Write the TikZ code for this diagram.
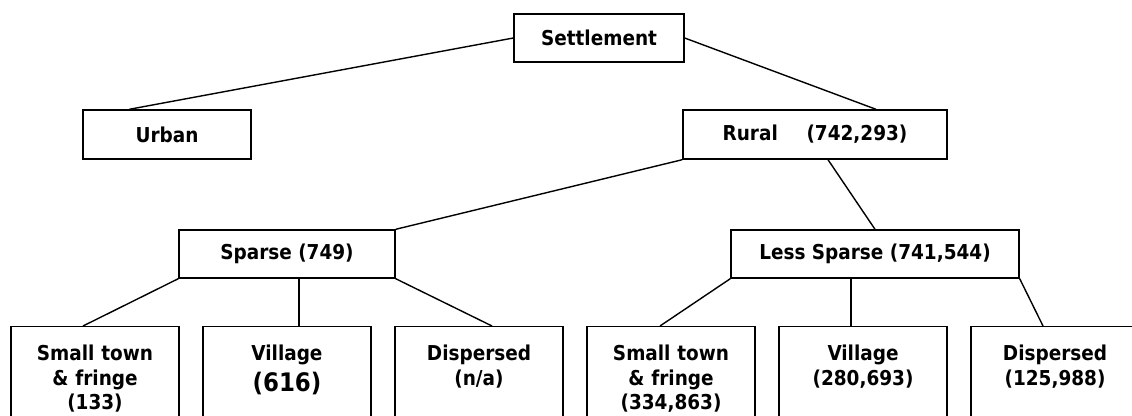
\documentclass[tikz,border=0pt]{standalone}
\usepackage{fontspec}
\setmainfont{DejaVu Sans Condensed}
\usepackage{tikz}
\tikzset{
  st/.style={x=1pt, y=-1pt, line width=1.4pt,
             every node/.style={draw, rectangle, font=\bfseries\fontsize{20.5}{24.5}\selectfont, inner sep=0pt, minimum height=48pt}},
  leafbox/.style={anchor=north, text width=168pt, align=center, text height=34pt, text depth=110pt}
}
\newcommand{\bignum}[1]{{\fontsize{25.5}{32}\selectfont #1}}

\begin{document}
\begin{tikzpicture}[st]
\useasboundingbox (0,0) rectangle (1132,415);
\clip (0,0) rectangle (1132,415);
\node (settle) at (599,38) [minimum width=170pt] {Settlement};
\node (urban) at (167,134.5) [minimum width=168pt, minimum height=49pt] {Urban};
\node (rural) at (815,134.5) [minimum width=264pt, minimum height=49pt] {Rural\hspace{1.4em}(742,293)};
\node (sparse) at (287,254) [minimum width=216pt] {Sparse (749)};
\node (less) at (875,254) [minimum width=288pt] {Less Sparse (741,544)};
\node[leafbox] (v1) at (95,326) {Small town\\ \& fringe\\ (133)};
\node[leafbox] (v2) at (287,326) {Village\\[6pt] \bignum{(616)}};
\node[leafbox] (v3) at (479,326) {Dispersed\\ (n/a)};
\node[leafbox] (v4) at (671,326) {Small town\\ \& fringe\\ (334,863)};
\node[leafbox] (v5) at (863,326) {Village\\ (280,693)};
\node[leafbox] (v6) at (1055,326) {Dispersed\\ (125,988)};
\draw (settle.west) -- ([xshift=47pt]urban.north west);
\draw (settle.east) -- ([xshift=61pt]rural.north);
\draw (rural.south west) -- (sparse.north east);
\draw ([xshift=13pt]rural.south) -- (less.north);
\draw (sparse.south west) -- ([xshift=-12pt]v1.north);
\draw ([xshift=12pt]sparse.south) -- ([xshift=12pt]v2.north);
\draw (sparse.south east) -- ([xshift=13pt]v3.north);
\draw (less.south west) -- ([xshift=-11pt]v4.north);
\draw ([xshift=-24pt]less.south) -- ([xshift=-12pt]v5.north);
\draw (less.south east) -- ([xshift=-12pt]v6.north);
\end{tikzpicture}
\end{document}
